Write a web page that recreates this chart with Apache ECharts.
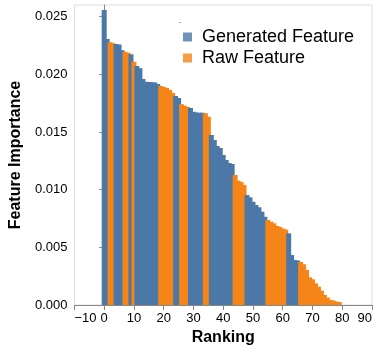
<!DOCTYPE html>
<html><head><meta charset="utf-8">
<script src="https://cdn.jsdelivr.net/npm/echarts@6/dist/echarts.min.js"></script>
<style>html,body{margin:0;padding:0;background:#fff}#c{width:378px;height:352px}</style>
</head><body><div id="c"></div>
<script>
const ranking = [0,1,2,3,4,5,6,7,8,9,10,11,12,13,14,15,16,17,18,19,20,21,22,23,24,25,26,27,28,29,30,31,32,33,34,35,36,37,38,39,40,41,42,43,44,45,46,47,48,49,50,51,52,53,54,55,56,57,58,59,60,61,62,63,64,65,66,67,68,69,70,71,72,73,74,75,76,77,78,79];
const importance = [0.02557,0.02305,0.02277,0.02268,0.02262,0.02258,0.02207,0.02195,0.02186,0.02173,
0.02109,0.02071,0.02051,0.01959,0.01935,0.01933,0.01930,0.01928,0.01915,0.01898,
0.01889,0.01881,0.01863,0.01837,0.01811,0.01794,0.01739,0.01727,0.01716,0.01707,
0.01675,0.01668,0.01667,0.01666,0.01661,0.01632,0.01473,0.01430,0.01378,0.01361,
0.01300,0.01257,0.01231,0.01222,0.01127,0.01077,0.01066,0.01040,0.00953,0.00933,
0.00895,0.00867,0.00847,0.00809,0.00765,0.00737,0.00722,0.00708,0.00685,0.00676,
0.00663,0.00654,0.00621,0.00433,0.00390,0.00386,0.00373,0.00353,0.00303,0.00240,
0.00223,0.00188,0.00159,0.00124,0.00087,0.00065,0.00043,0.00039,0.00030,0.00026];
const featureType = ['G','G','R','R','G','G','G','R','R','G',
'R','G','G','G','G','G','G','G','G','R',
'R','R','R','R','G','G','R','R','R','G',
'G','G','G','G','R','R','G','G','G','G',
'G','G','G','G','R','R','R','R','G','G',
'G','G','G','G','G','R','R','R','R','R',
'R','R','G','G','G','G','R','R','R','R',
'R','R','R','R','R','R','R','R','R','R'];
const legendNames = {G:'Generated Feature', R:'Raw Feature'};
const xTicks = [-10,0,10,20,30,40,50,60,70,80,90];
const yTicks = [0,0.005,0.01,0.015,0.02,0.025];

const FONT = '"Liberation Sans", Arial, Helvetica, sans-serif';
const COLORS = {G:'#4c78a8', R:'#f58518'};

const chart = echarts.init(document.getElementById('c'), null, {renderer:'canvas'});
chart.setOption({
  animation:false,
  textStyle:{fontFamily:FONT},
  grid:{left:72, right:6, top:5, bottom:47, show:true, borderColor:'#ddd', borderWidth:1},
  xAxis:{
    type:'value', min:-10, max:90, interval:10,
    name:'Ranking', nameLocation:'middle', nameGap:23,
    nameTextStyle:{fontSize:16, fontWeight:'bold', color:'#000', fontFamily:FONT},
    axisLine:{lineStyle:{color:'#888'}},
    axisTick:{length:5, lineStyle:{color:'#888'}, customValues:xTicks},
    axisLabel:{customValues:xTicks, fontSize:13, color:'#000', margin:7, fontFamily:FONT,
      alignMinLabel:'left', alignMaxLabel:'right',
      formatter: v => v < 0 ? '\u2212' + Math.abs(v) : String(v)},
    splitLine:{show:false}
  },
  yAxis:{
    type:'value', min:0, max:0.026, interval:0.005,
    name:'Feature Importance', nameLocation:'middle', nameGap:46, nameRotate:90,
    nameTextStyle:{fontSize:16, fontWeight:'bold', color:'#000', fontFamily:FONT},
    axisLine:{show:true, lineStyle:{color:'#888'}},
    axisTick:{show:true, length:5, lineStyle:{color:'#888'}, customValues:yTicks},
    axisLabel:{customValues:yTicks, fontSize:13, color:'#000', margin:7, fontFamily:FONT,
      formatter: v => v.toFixed(3)},
    splitLine:{show:false}
  },
  legend:{
    orient:'vertical', left:183, top:28, padding:0, icon:'rect',
    itemWidth:9, itemHeight:9, itemGap:3,
    data:[legendNames.G, legendNames.R],
    formatter: n => '{t|' + n + '}',
    textStyle:{fontSize:18, color:'#000', fontFamily:FONT,
      rich:{t:{fontSize:18, color:'#000', fontFamily:FONT, padding:[0,0,0,5]}}}
  },
  graphic:[{type:'text', left:179, top:19, style:{text:'-', fontSize:7, fill:'#555', fontFamily:FONT}}],
  series:[
    {type:'bar', barWidth:5, silent:true,
     data: ranking.map((r,i) => ({value:[r, importance[i]], itemStyle:{color:COLORS[featureType[i]]}}))},
    {type:'scatter', name:legendNames.G, data:[], itemStyle:{color:COLORS.G}},
    {type:'scatter', name:legendNames.R, data:[], itemStyle:{color:COLORS.R}}
  ]
});
</script>
</body></html>
